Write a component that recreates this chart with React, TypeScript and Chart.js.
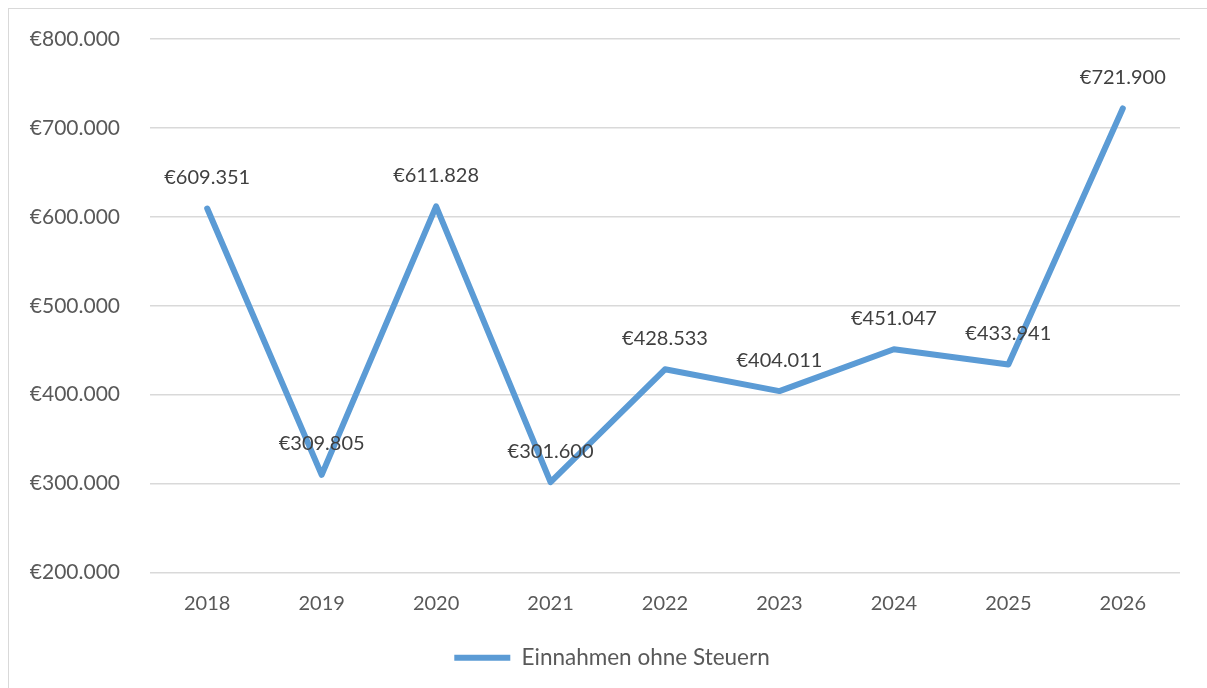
import React, { useEffect, useRef } from "react";
import { Chart, registerables } from "chart.js";

Chart.register(...registerables);

const years = ["2018", "2019", "2020", "2021", "2022", "2023", "2024", "2025", "2026"];
const einnahmen = [609351, 309805, 611828, 301600, 428533, 404011, 451047, 433941, 721900];
const seriesName = "Einnahmen ohne Steuern";
const yMin = 200000;
const yMax = 800000;
const yStep = 100000;

const FONT = "Lato, 'Open Sans', sans-serif";

const fmt = (v: number) => "€" + Math.round(v).toString().replace(/\B(?=(\d{3})+(?!\d))/g, ".");

const labelPlugin = {
  id: "pointLabels",
  afterDatasetsDraw(chart: any) {
    const { ctx } = chart;
    const meta = chart.getDatasetMeta(0);
    ctx.save();
    ctx.font = `20px ${FONT}`;
    ctx.fillStyle = "#404040";
    ctx.textAlign = "center";
    ctx.textBaseline = "middle";
    meta.data.forEach((pt: any, i: number) => {
      ctx.fillText(fmt(chart.data.datasets[0].data[i]), pt.x, pt.y - 31);
    });
    ctx.restore();
  },
};

export default function App() {
  const ref = useRef<HTMLCanvasElement | null>(null);
  useEffect(() => {
    if (!ref.current) return;
    const chart = new Chart(ref.current, {
      type: "line",
      data: {
        labels: years,
        datasets: [
          {
            label: seriesName,
            data: einnahmen,
            borderColor: "#5B9BD5",
            backgroundColor: "#5B9BD5",
            borderWidth: 6,
            borderCapStyle: "round",
            borderJoinStyle: "round",
            pointRadius: 0,
            pointHoverRadius: 0,
            tension: 0,
            yAxisID: "y",
          },
        ],
      },
      options: {
        animation: false,
        responsive: false,
        layout: { padding: { top: 30, right: 0, left: 8, bottom: 9 } },
        plugins: {
          tooltip: { enabled: false },
          legend: {
            position: "bottom",
            labels: {
              usePointStyle: true,
              pointStyle: "line",
              pointStyleWidth: 56,
              color: "#595959",
              font: { family: FONT, size: 22.5 },
              padding: 10,
            },
          },
        },
        scales: {
          x: {
            offset: true,
            grid: { display: false, drawTicks: false },
            border: { display: false },
            ticks: { color: "#595959", font: { family: FONT, size: 20 }, padding: 19 },
            afterFit: (s: any) => {
              s.height = 64;
              s.paddingLeft = 0;
              s.paddingRight = 0;
            },
          },
          y: {
            min: yMin,
            max: yMax,
            position: "left",
            ticks: {
              stepSize: yStep,
              color: "#595959",
              font: { family: FONT, size: 21 },
              padding: 30,
              callback: (v: any) => fmt(Number(v)),
            },
            grid: { color: "#d9d9d9", lineWidth: 1.5, drawTicks: false },
            border: { display: false },
            afterFit: (s: any) => {
              s.width = 133;
              s.paddingTop = 0;
              s.paddingBottom = 0;
            },
          },
          yRight: {
            position: "right",
            min: yMin,
            max: yMax,
            grid: { display: false, drawTicks: false },
            border: { display: false },
            ticks: { display: false },
            afterFit: (s: any) => {
              s.width = 27;
              s.paddingTop = 0;
              s.paddingBottom = 0;
            },
          },
        },
      },
      plugins: [labelPlugin],
    });
    return () => chart.destroy();
  }, []);
  return (
    <div
      style={{
        position: "absolute",
        left: 8,
        top: 8,
        width: 1198,
        height: 679,
        borderTop: "1px solid #d9d9d9",
        borderLeft: "1px solid #d9d9d9",
        background: "#fff",
      }}
    >
      <canvas ref={ref} width={1198} height={679} style={{ display: "block" }} />
    </div>
  );
}
